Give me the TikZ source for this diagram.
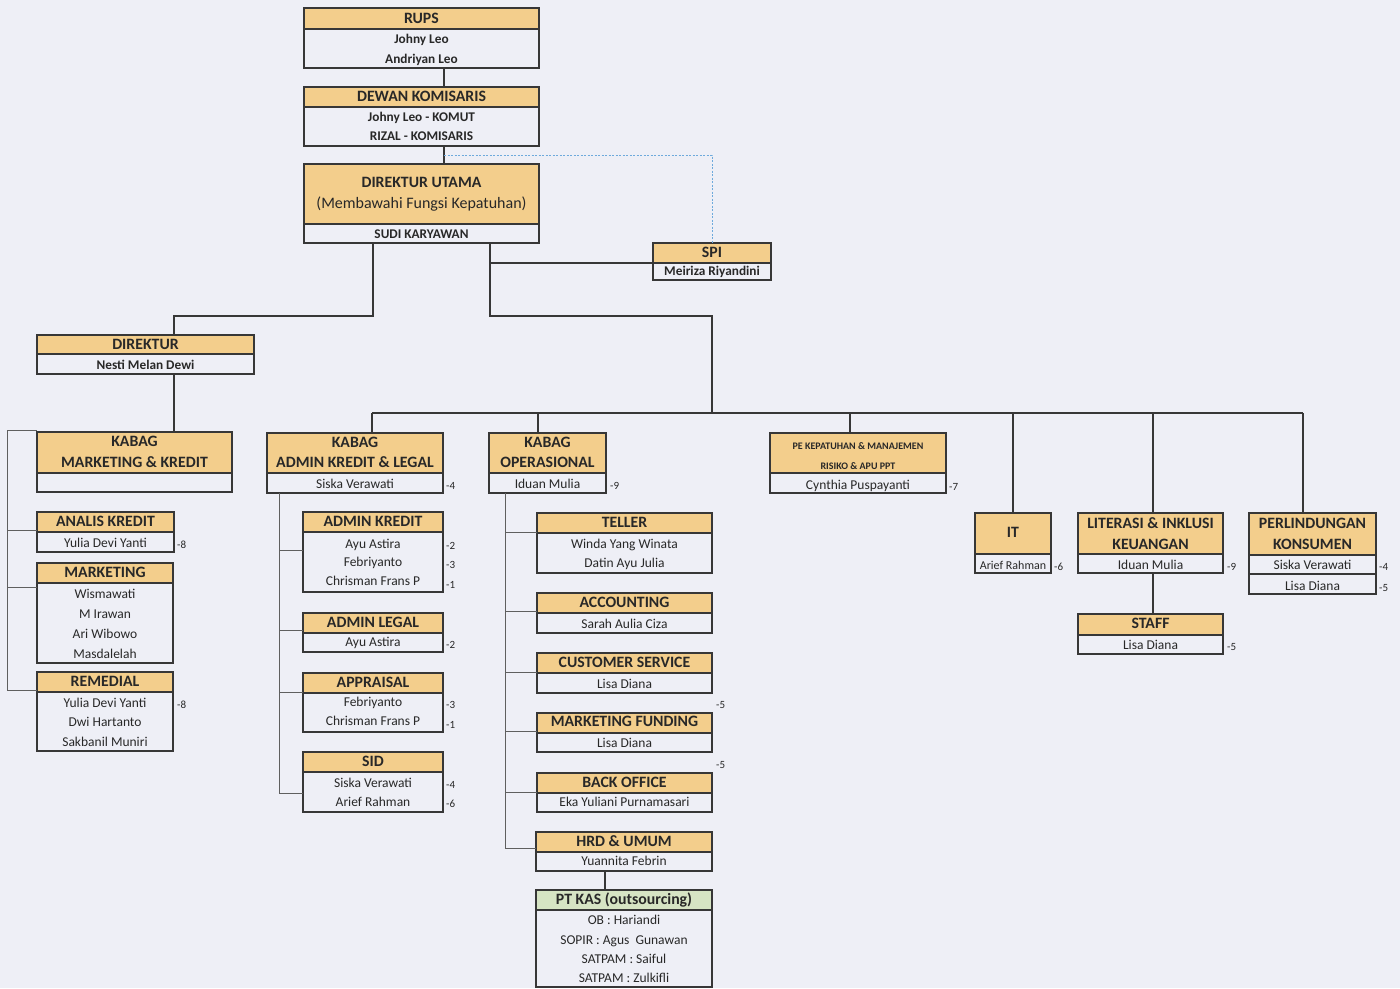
\documentclass[tikz,border=0pt]{standalone}
\usepackage{fontspec}
\setmainfont{Carlito}
\usetikzlibrary{fit}
\definecolor{bg}{RGB}{238,239,246}
\definecolor{hdr}{RGB}{243,206,140}
\definecolor{grn}{RGB}{214,228,196}
\definecolor{lc}{RGB}{55,55,55}
\definecolor{brc}{RGB}{95,95,95}
\definecolor{txt}{RGB}{40,40,40}
\definecolor{dotc}{RGB}{110,170,220}
\tikzset{
  bx/.style={draw=lc, line width=1.6pt},
  cn/.style={draw=lc, line width=1.5pt},
  br/.style={draw=brc, line width=0.9pt},
  dotl/.style={draw=dotc, line width=0.9pt, dash pattern=on 2pt off 1.5pt},
  base/.style={inner sep=0pt, text height=.64em, text depth=0pt, text=txt, yshift=-1.5pt},
  hd/.style={base, font=\fontsize{15.8}{16}\selectfont\bfseries},
  nm/.style={base, font=\fontsize{13.5}{13}\selectfont},
  nmb/.style={base, font=\fontsize{13.3}{13}\selectfont\bfseries},
  subt/.style={base, font=\fontsize{16}{16}\selectfont},
  pet/.style={base, font=\fontsize{10}{10}\selectfont\bfseries},
  itn/.style={base, font=\fontsize{12}{12}\selectfont},
  num/.style={base, anchor=west, font=\fontsize{11}{11}\selectfont},
}
% #1 header colour, #2 name, #3 x1, #4 y1, #5 x2, #6 header bottom, #7 bottom
\newcommand\obox[7][hdr]{%
  \fill[#1] (#3,#4) rectangle (#5,#6);
  \draw[bx] (#3,#4) rectangle (#5,#7);
  \draw[bx] (#3,#6) -- (#5,#6);
  \node[fit={(#3,#4) (#5,#7)}, inner sep=0pt] (#2) {};
}
\newcommand\tx[4][nm]{\node[#1] (#2t#3) at (#2.center |- 0,#3) {#4};}
\begin{document}
\begin{tikzpicture}[x=1pt,y=-1pt]
\useasboundingbox (0,0) rectangle (1400,988);
\fill[bg] (0,0) rectangle (1400,988);

% ---------- top chain ----------
\obox{rups}{304}{8}{539}{29}{68}
\tx[hd]{rups}{19}{RUPS}
\tx[nmb]{rups}{39}{Johny Leo}
\tx[nmb]{rups}{59}{Andriyan Leo}

\obox{dk}{304}{87}{539}{107}{146}
\tx[hd]{dk}{97}{DEWAN KOMISARIS}
\tx[nmb]{dk}{117}{Johny Leo - KOMUT}
\tx[nmb]{dk}{136}{RIZAL - KOMISARIS}

\obox{dirut}{304}{164}{539}{224}{243}
\tx[hd]{dirut}{183}{DIREKTUR UTAMA}
\tx[subt]{dirut}{204}{(Membawahi Fungsi Kepatuhan)}
\tx[nmb]{dirut}{234}{SUDI KARYAWAN}

\obox{spi}{653}{243}{771}{263}{280}
\tx[hd]{spi}{253}{SPI}
\tx[nmb]{spi}{271}{Meiriza Riyandini}

% ---------- DIREKTUR branch ----------
\obox{dir}{37}{335}{254}{354}{374}
\tx[hd]{dir}{345}{DIREKTUR}
\tx[nmb]{dir}{365}{Nesti Melan Dewi}

\obox{kmk}{37}{432}{232}{473}{492}
\tx[hd]{kmk}{442}{KABAG}
\tx[hd]{kmk}{463}{MARKETING \& KREDIT}

\obox{ak}{37}{512}{174}{532}{552}
\tx[hd]{ak}{522}{ANALIS KREDIT}
\tx{ak}{543}{Yulia Devi Yanti}
\node[num] (n1) at (177,544) {-8};

\obox{mkt}{37}{563}{173}{583}{663}
\tx[hd]{mkt}{573}{MARKETING}
\tx{mkt}{594}{Wismawati}
\tx{mkt}{614}{M Irawan}
\tx{mkt}{634}{Ari Wibowo}
\tx{mkt}{654}{Masdalelah}

\obox{rem}{37}{672}{173}{692}{751}
\tx[hd]{rem}{682}{REMEDIAL}
\tx{rem}{703}{Yulia Devi Yanti}
\tx{rem}{722}{Dwi Hartanto}
\tx{rem}{742}{Sakbanil Muniri}
\node[num] (n2) at (177,704) {-8};

% ---------- ADMIN KREDIT & LEGAL ----------
\obox{kak}{267}{433}{443}{473}{493}
\tx[hd]{kak}{443}{KABAG}
\tx[hd]{kak}{463}{ADMIN KREDIT \& LEGAL}
\tx{kak}{484}{Siska Verawati}
\node[num] (n3) at (446,485) {-4};

\obox{adk}{303}{512}{443}{532}{592}
\tx[hd]{adk}{522}{ADMIN KREDIT}
\tx{adk}{544}{Ayu Astira}
\tx{adk}{562}{Febriyanto}
\tx{adk}{581}{Chrisman Frans P}
\node[num] (n4) at (446,545) {-2};
\node[num] (n5) at (446,564) {-3};
\node[num] (n6) at (446,584) {-1};

\obox{adl}{303}{613}{443}{633}{652}
\tx[hd]{adl}{623}{ADMIN LEGAL}
\tx{adl}{642}{Ayu Astira}
\node[num] (n7) at (446,644) {-2};

\obox{app}{303}{673}{443}{693}{732}
\tx[hd]{app}{683}{APPRAISAL}
\tx{app}{702}{Febriyanto}
\tx{app}{721}{Chrisman Frans P}
\node[num] (n8) at (446,704) {-3};
\node[num] (n9) at (446,724) {-1};

\obox{sid}{303}{752}{443}{772}{812}
\tx[hd]{sid}{762}{SID}
\tx{sid}{783}{Siska Verawati}
\tx{sid}{802}{Arief Rahman}
\node[num] (n10) at (446,784) {-4};
\node[num] (n11) at (446,803) {-6};

% ---------- OPERASIONAL ----------
\obox{kop}{489}{433}{606}{473}{493}
\tx[hd]{kop}{443}{KABAG}
\tx[hd]{kop}{463}{OPERASIONAL}
\tx{kop}{484}{Iduan Mulia}
\node[num] (n12) at (610,485) {-9};

\obox{tel}{537}{513}{712}{533}{573}
\tx[hd]{tel}{523}{TELLER}
\tx{tel}{544}{Winda Yang Winata}
\tx{tel}{563}{Datin Ayu Julia}

\obox{acc}{537}{593}{712}{613}{633}
\tx[hd]{acc}{603}{ACCOUNTING}
\tx{acc}{624}{Sarah Aulia Ciza}

\obox{cs}{537}{653}{712}{673}{693}
\tx[hd]{cs}{663}{CUSTOMER SERVICE}
\tx{cs}{684}{Lisa Diana}
\node[num] (n13) at (716,704) {-5};

\obox{mf}{537}{713}{712}{733}{752}
\tx[hd]{mf}{722}{MARKETING FUNDING}
\tx{mf}{743}{Lisa Diana}
\node[num] (n14) at (716,764) {-5};

\obox{bo}{537}{773}{712}{793}{812}
\tx[hd]{bo}{783}{BACK OFFICE}
\tx{bo}{802}{Eka Yuliani Purnamasari}

\obox{hrd}{536}{832}{712}{852}{871}
\tx[hd]{hrd}{842}{HRD \& UMUM}
\tx{hrd}{861}{Yuannita Febrin}

\obox[grn]{kas}{536}{890}{712}{910}{987}
\tx[hd]{kas}{900}{PT KAS (outsourcing)}
\tx{kas}{920}{OB : Hariandi}
\tx{kas}{940}{SOPIR : Agus\ \ Gunawan}
\tx{kas}{959}{SATPAM : Saiful}
\tx{kas}{978}{SATPAM : Zulkifli}

% ---------- right side ----------
\obox{pe}{770}{433}{946}{473}{493}
\tx[pet]{pe}{445}{PE KEPATUHAN \& MANAJEMEN}
\tx[pet]{pe}{465}{RISIKO \& APU PPT}
\tx{pe}{485}{Cynthia Puspayanti}
\node[num] (n15) at (949,486) {-7};

\obox{it}{975}{513}{1051}{554}{573}
\tx[hd]{it}{533}{IT}
\tx[itn]{it}{565}{Arief Rahman}
\node[num] (n16) at (1054,566) {-6};

\obox{lit}{1078}{513}{1223}{554}{573}
\tx[hd]{lit}{524}{LITERASI \& INKLUSI}
\tx[hd]{lit}{545}{KEUANGAN}
\tx{lit}{565}{Iduan Mulia}
\node[num] (n17) at (1227,566) {-9};

\obox{staff}{1078}{614}{1223}{635}{654}
\tx[hd]{staff}{624}{STAFF}
\tx{staff}{645}{Lisa Diana}
\node[num] (n18) at (1227,646) {-5};

\obox{perl}{1249}{513}{1376}{555}{594}
\draw[bx] (1249,574) -- (1376,574);
\tx[hd]{perl}{524}{PERLINDUNGAN}
\tx[hd]{perl}{545}{KONSUMEN}
\tx{perl}{565}{Siska Verawati}
\tx{perl}{586}{Lisa Diana}
\node[num] (n19) at (1379,566) {-4};
\node[num] (n20) at (1379,587) {-5};

% ---------- connectors ----------
\draw[cn] (rups.south -| 444,0) -- (dk.north -| 444,0);
\draw[cn] (dk.south -| 444,0) -- (dirut.north -| 444,0);
\coordinate (dj) at (444,155);
\draw[dotl] (dj) -| (spi.north);
\draw[cn] (dirut.south -| 373,0) |- (174,316) -- (dir.north -| 174,0);
\coordinate (busL) at (372,413);
\coordinate (busR) at (1303,413);
\draw[cn] (dirut.south -| 490,0) |- (712,316) -- (712,413);
\draw[cn] (spi.west |- 0,263) -- (490,263);
\draw[cn] (dir.south -| 174,0) -- (kmk.north -| 174,0);
\draw[cn] (busL) -- (busR);
\draw[cn] (busL) -- (kak.north -| busL);
\draw[cn] (538,413) -- (kop.north -| 538,0);
\draw[cn] (850,413) -- (pe.north -| 850,0);
\draw[cn] (1013,413) -- (it.north -| 1013,0);
\draw[cn] (1153,413) -- (lit.north -| 1153,0);
\draw[cn] (busR) -- (perl.north -| busR);
\draw[cn] (lit.south -| 1153,0) -- (staff.north -| 1153,0);
\draw[cn] (hrd.south -| 605,0) -- (kas.north -| 605,0);

% left bracket (marketing & kredit)
\draw[br] (kmk.west |- 0,430) -- (7,430) |- (rem.west |- 0,690);
\draw[br] (7,530) -- (ak.west |- 0,530);
\draw[br] (7,587) -- (mkt.west |- 0,587);
% admin bracket
\draw[br] (kak.south -| 279.5,0) |- (sid.west |- 0,793);
\draw[br] (279.5,550) -- (adk.west |- 0,550);
\draw[br] (279.5,630) -- (adl.west |- 0,630);
\draw[br] (279.5,692) -- (app.west |- 0,692);
% operasional bracket
\draw[br] (kop.south -| 505,0) |- (hrd.west |- 0,848);
\draw[br] (505,532) -- (tel.west |- 0,532);
\draw[br] (505,611) -- (acc.west |- 0,611);
\draw[br] (505,672) -- (cs.west |- 0,672);
\draw[br] (505,731) -- (mf.west |- 0,731);
\draw[br] (505,792) -- (bo.west |- 0,792);
\end{tikzpicture}
\end{document}
